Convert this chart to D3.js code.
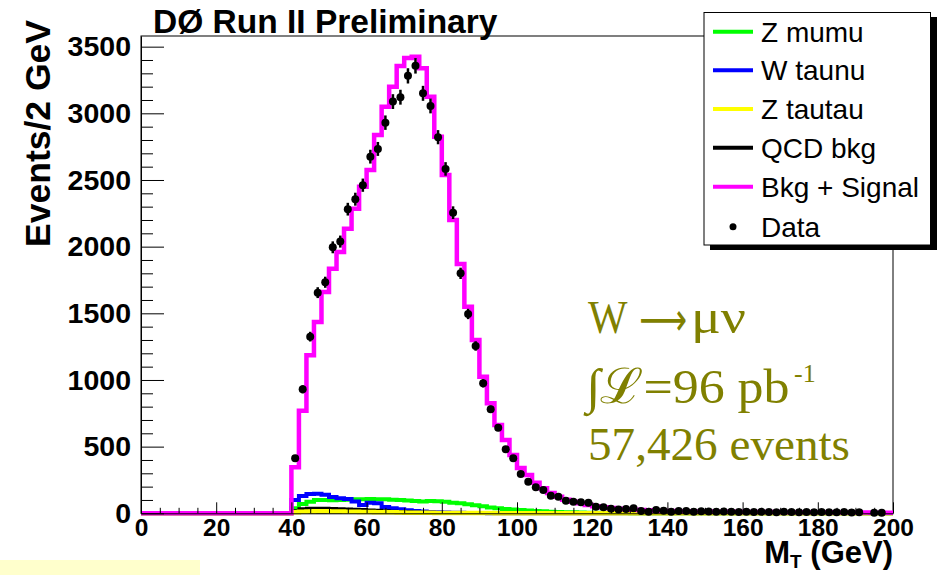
<!DOCTYPE html>
<html>
<head>
<meta charset="utf-8">
<script src="https://cdn.jsdelivr.net/npm/d3@7"></script>
<style>
html,body{margin:0;padding:0;background:#fff;}
svg{display:block;}
</style>
</head>
<body>
<svg id="chart" width="944" height="575"></svg>
<script>
// ---------------- DATA ----------------
const binWidth = 2;              // GeV
const firstFilledBin = 40;       // GeV, low edge of first non-empty bin
const binLowEdges = d3.range(0, 200, binWidth);

// values from 40 GeV upward, one per 2 GeV bin
const bkgSignal = [345,770,1185,1435,1660,1835,1960,2135,2285,2450,2575,2838,3050,3200,3355,3415,3425,3338,3125,2825,
  2538,2200,1870,1550,1300,1025,825,662,550,437,340,287,230,187,152,125,102,87,75,63,
  52,45,39,34,30,27,24,22,20,18,17,16,15,14,13,13,12,12,11,11,
  10,10,9,9,9,8,8,8,7,7,7,7,6,6,6,6,6,5,5,5];
const dataCounts = [412,930,1325,1655,1733,1995,2038,2281,2356,2461,2675,2733,2930,3088,3121,3281,3356,3150,3055,2821,
  2583,2255,1800,1495,1255,975,780,642,480,412,295,237,195,175,132,125,95,87,82,80,
  50,45,35,28,33,37,18,12,25,20,12,17,17,12,15,14,11,13,12,10,
  12,9,11,10,8,11,9,8,10,7,9,8,7,9,6,7,null,5,4,null];
const zMumu = [37,70,87,100,100,97,100,102,105,106,107,106,105,102,100,96,92,88,92,90,
  86,80,75,68,60,52,44,38,33,29,25,21,18,15,12,10,8,7,6,5,
  4,3,3,2,2,1,1,1,1,1,0,0,0,0,0,0,0,0,0,0,
  0,0,0,0,0,0,0,0,0,0,0,0,0,0,0,0,0,0,0,0];
const wTaunu = [100,130,145,147,140,122,113,107,88,63,80,75,47,38,30,22,17,13,10,8,
  6,5,4,3,2,2,1,1,0,0,0,0,0,0,0,0,0,0,0,0,
  0,0,0,0,0,0,0,0,0,0,0,0,0,0,0,0,0,0,0,0,
  0,0,0,0,0,0,0,0,0,0,0,0,0,0,0,0,0,0,0,0];
const zTautau = [8,12,14,15,15,14,13,12,11,10,9,8,7,7,6,5,5,4,4,3,
  3,3,2,2,2,2,2,1,1,1,1,1,1,1,1,1,1,1,1,1,
  1,1,1,1,1,0,0,0,0,0,0,0,0,0,0,0,0,0,0,0,
  0,0,0,0,0,0,0,0,0,0,0,0,0,0,0,0,0,0,0,0];
const qcdBkg = [20,35,38,38,37,36,35,33,30,28,25,22,19,16,14,12,10,8,7,6,
  5,4,3,3,2,2,1,1,1,1,0,0,0,0,0,0,0,0,0,0,
  0,0,0,0,0,0,0,0,0,0,0,0,0,0,0,0,0,0,0,0,
  0,0,0,0,0,0,0,0,0,0,0,0,0,0,0,0,0,0,0,0];

const xMajorTicks = [0,20,40,60,80,100,120,140,160,180,200];
const yMajorTicks = [0,500,1000,1500,2000,2500,3000,3500];
const legendLabels = ["Z mumu","W taunu","Z tautau","QCD bkg","Bkg + Signal","Data"];
const titleText = "DØ Run II Preliminary";
const yTitle = "Events/2 GeV";

// --------------- SETUP ----------------
const svg = d3.select("#chart");
const SANS = "'Liberation Sans', Arial, Helvetica, sans-serif";
const SERIF = "'Liberation Serif', 'Times New Roman', 'DejaVu Serif', serif";

const x = d3.scaleLinear().domain([0, 200]).range([141, 893]);
const y = d3.scaleLinear().domain([0, 3580]).range([513.3, 36]);

function fullSeries(vals){
  return binLowEdges.map(lo => {
    if (lo < firstFilledBin) return 0;
    const v = vals[(lo - firstFilledBin) / binWidth];
    return v == null ? 0 : v;
  });
}

// yellow box in bottom-left corner
svg.append("rect").attr("x",0).attr("y",560).attr("width",200).attr("height",15).attr("fill","#ffffcc");

// frame
svg.append("rect")
  .attr("x", x(0)).attr("y", y.range()[1])
  .attr("width", x(200)-x(0)).attr("height", y.range()[0]-y.range()[1])
  .attr("fill","none").attr("stroke","#000").attr("stroke-width",1);

// histograms
const stepLine = d3.line().x(d=>x(d[0])).y(d=>y(d[1])).curve(d3.curveStepAfter);
function histPts(vals){
  const full = fullSeries(vals);
  const pts = binLowEdges.map((lo,i)=>[lo, full[i]]);
  pts.push([200, full[full.length-1]]);
  return pts;
}
function drawHist(vals, color, width){
  svg.append("path").attr("d", stepLine(histPts(vals)))
    .attr("fill","none").attr("stroke",color).attr("stroke-width",width)
    .attr("stroke-linejoin","miter").attr("stroke-linecap","butt");
}
drawHist(zMumu, "#00ff00", 4);
drawHist(wTaunu, "#0000ff", 4);
drawHist(qcdBkg, "#000000", 3);
drawHist(zTautau, "#ffff00", 4.5);
drawHist(bkgSignal, "#ff00ff", 4.5);

// data points
const pts = dataCounts.map((v,i)=>({m: firstFilledBin + i*binWidth + binWidth/2, v}))
  .filter(d=>d.v != null && d.v > 0);
const dg = svg.append("g");
dg.selectAll("line").data(pts).enter().append("line")
  .attr("x1",d=>x(d.m)).attr("x2",d=>x(d.m))
  .attr("y1",d=>y(d.v+Math.sqrt(d.v))).attr("y2",d=>y(Math.max(0,d.v-Math.sqrt(d.v))))
  .attr("stroke","#000").attr("stroke-width",2.5);
dg.selectAll("circle").data(pts).enter().append("circle")
  .attr("cx",d=>x(d.m)).attr("cy",d=>y(d.v)).attr("r",4).attr("fill","#000");

// axes
const yMinor = d3.range(0, 3580, 100).filter(v=>v%500!==0);
const xMinor = d3.range(0, 201, 5).filter(v=>v%20!==0);

const yAx = svg.append("g").attr("transform",`translate(${x(0)},0)`)
  .call(d3.axisLeft(y).tickValues(yMajorTicks).tickSizeInner(-23).tickSizeOuter(0).tickPadding(10).tickFormat(d3.format("d")));
svg.append("g").attr("transform",`translate(${x(0)},0)`)
  .call(d3.axisLeft(y).tickValues(yMinor).tickSizeInner(-12).tickSizeOuter(0).tickFormat(""))
  .select(".domain").remove();
const xAx = svg.append("g").attr("transform",`translate(0,${y(0)})`)
  .call(d3.axisBottom(x).tickValues(xMajorTicks).tickSizeInner(-11).tickSizeOuter(0).tickPadding(5).tickFormat(d3.format("d")));
svg.append("g").attr("transform",`translate(0,${y(0)})`)
  .call(d3.axisBottom(x).tickValues(xMinor).tickSizeInner(-5.5).tickSizeOuter(0).tickFormat(""))
  .select(".domain").remove();
svg.selectAll(".tick line").attr("stroke","#000").attr("stroke-width",1);
svg.selectAll(".domain").attr("stroke","#000").attr("stroke-width",1);
yAx.selectAll("text").attr("font-family",SANS).attr("font-weight","bold").attr("font-size",28.5).attr("fill","#000");
xAx.selectAll("text").attr("font-family",SANS).attr("font-weight","bold").attr("font-size",24.5).attr("fill","#000");

// titles
svg.append("text").attr("x",153).attr("y",33).text(titleText)
  .attr("font-family",SANS).attr("font-weight","bold").attr("font-size",33.5).attr("fill","#000");
svg.append("text").attr("transform","translate(50,20) rotate(-90)").attr("text-anchor","end")
  .text(yTitle).attr("font-family",SANS).attr("font-weight","bold").attr("font-size",35.5).attr("fill","#000");
const xt = svg.append("text").attr("x",893).attr("y",563).attr("text-anchor","end")
  .attr("font-family",SANS).attr("font-weight","bold").attr("font-size",31).attr("fill","#000");
xt.append("tspan").text("M");
xt.append("tspan").text("T").attr("font-size",19).attr("dy",5);
xt.append("tspan").text(" (GeV)").attr("dy",-5);

// annotation (each piece fitted to the width it has in the picture)
const olive = "#808000";
const ann = svg.append("g").attr("font-family",SERIF).attr("fill",olive);
function fitted(str, x0, y0, size, width, family){
  const t = ann.append("text").attr("x",0).attr("y",0).attr("font-size",size).text(str);
  if (family) t.attr("font-family", family);
  let w = width;
  try { const bb = t.node().getBBox(); if (bb.width > 0) w = bb.width; } catch(e) {}
  t.attr("transform",`translate(${x0},${y0}) scale(${width/w},1)`);
  return t;
}
fitted("W", 588, 333, 46, 40);
// long arrow, fitted by its drawn box
(function(){
  const t = ann.append("text").attr("x",0).attr("y",0).attr("font-size",46)
    .attr("font-family","'DejaVu Sans', 'Liberation Serif', serif").text("⟶");
  let bx = 0, bw = 49;
  try { const bb = t.node().getBBox(); if (bb.width > 0) { bx = bb.x; bw = bb.width; } } catch(e) {}
  const s = 48 / bw;
  t.attr("transform",`translate(${639 - bx*s},335) scale(${s},1)`);
})();
fitted("μν", 691, 333, 48, 55);
fitted("∫ℒ=96 pb", 586, 403, 49, 207);
ann.append("text").attr("x",794).attr("y",382).text("-1").attr("font-size",26);
fitted("57,426 events", 588, 460, 47, 262);

// legend
const lg = svg.append("g");
lg.append("rect").attr("x",710).attr("y",17).attr("width",227).attr("height",233).attr("fill","#000");
lg.append("rect").attr("x",704).attr("y",12.5).attr("width",226.5).attr("height",232.5)
  .attr("fill","#fff").attr("stroke","#000").attr("stroke-width",1);
const legColors = ["#00ff00","#0000ff","#ffff00","#000000","#ff00ff",null];
const legY = [31.7,70.3,109,147.7,186.7,226.7];
legendLabels.forEach((lab,i)=>{
  if (legColors[i]) {
    lg.append("line").attr("x1",713).attr("x2",753).attr("y1",legY[i]).attr("y2",legY[i])
      .attr("stroke",legColors[i]).attr("stroke-width",4);
  } else {
    lg.append("circle").attr("cx",733).attr("cy",legY[i]).attr("r",3.5).attr("fill","#000");
  }
  lg.append("text").attr("x",761).attr("y",legY[i]+10).text(lab)
    .attr("font-family",SANS).attr("font-size",28).attr("fill","#000");
});
</script>
</body>
</html>
